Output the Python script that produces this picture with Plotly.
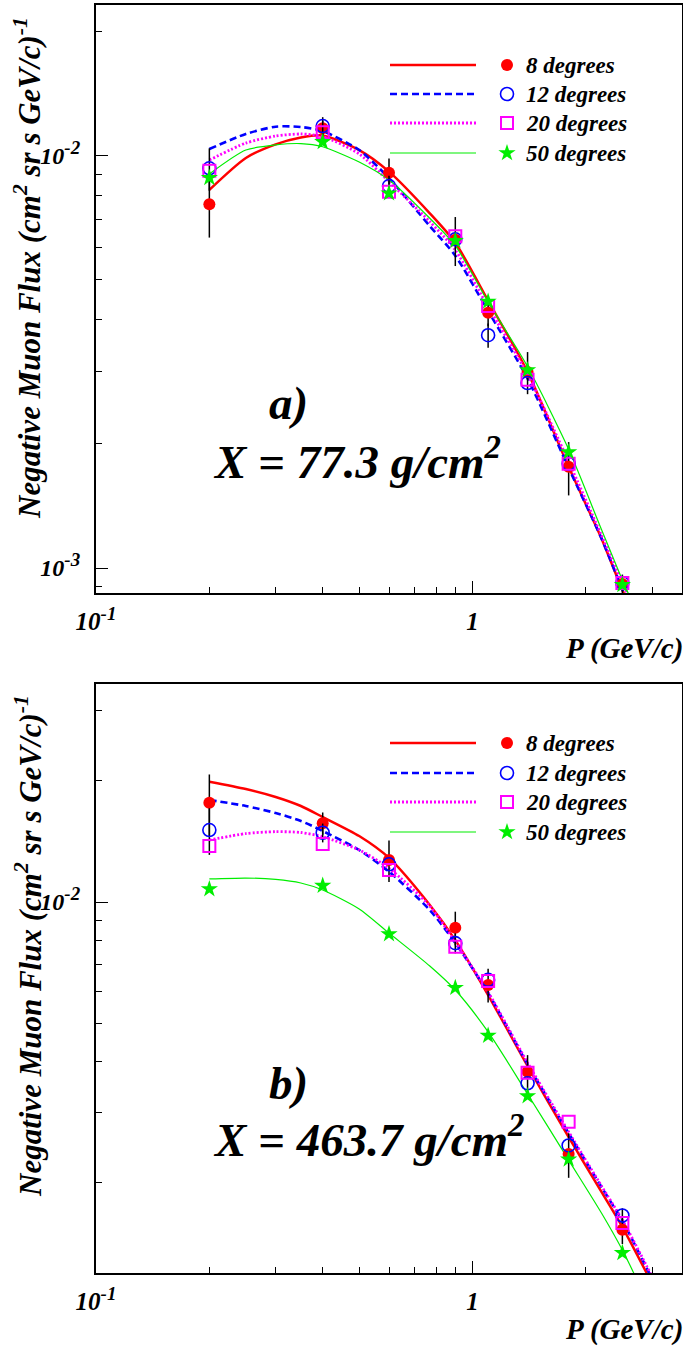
import plotly.graph_objects as go

W, H = 683, 1347
FONT = "Liberation Serif"

# ---------------- data ----------------
p_data = [0.2, 0.4, 0.6, 0.9, 1.1, 1.4, 1.8, 2.5]
series_names = ["8 degrees", "12 degrees", "20 degrees", "50 degrees"]

# panel a)  X = 77.3 g/cm2
a_8 = [7.63e-3, 1.166e-2, 9.09e-3, 6.25e-3, 4.16e-3, 2.99e-3, 1.76e-3, 9.14e-4]
a_8_err = [1.3e-3, 5e-4, 7.5e-4, 8.5e-4, 3e-4, 3.5e-4, 2.6e-4, 5e-5]
a_12 = [9.32e-3, 1.18e-2, 8.44e-3, 6.27e-3, 3.67e-3, 2.81e-3, 1.79e-3, 9.2e-4]
a_12_err = [1.1e-3, 6e-4, 5e-4, 0, 2.5e-4, 0, 0, 0]
a_20 = [9.2e-3, 1.14e-2, 8.18e-3, 6.38e-3, 4.32e-3, 2.86e-3, 1.79e-3, 9.2e-4]
a_50 = [8.84e-3, 1.08e-2, 8.11e-3, 6.22e-3, 4.43e-3, 3.02e-3, 1.91e-3, 9.1e-4]

p_fit_a = [0.2, 0.25, 0.3, 0.35, 0.4, 0.5, 0.6, 0.77, 0.9, 1.1, 1.4, 1.8, 2.2, 2.5, 2.7]
fa_8 = [8.26e-3, 9.87e-3, 1.065e-2, 1.107e-2, 1.119e-2, 1.032e-2, 9.15e-3, 7.25e-3,
        6.15e-3, 4.45e-3, 2.99e-3, 1.76e-3, 1.18e-3, 8.84e-4, 7.5e-4]
fa_12 = [1.038e-2, 1.129e-2, 1.176e-2, 1.174e-2, 1.147e-2, 1.032e-2, 8.82e-3, 6.75e-3,
         5.72e-3, 4.2e-3, 2.88e-3, 1.75e-3, 1.18e-3, 8.87e-4, 7.5e-4]
fa_20 = [9.76e-3, 1.073e-2, 1.116e-2, 1.129e-2, 1.113e-2, 1.01e-2, 8.65e-3, 6.92e-3,
         5.9e-3, 4.3e-3, 2.95e-3, 1.81e-3, 1.2e-3, 9.2e-4, 7.9e-4]
fa_50 = [9.03e-3, 1.032e-2, 1.062e-2, 1.07e-2, 1.051e-2, 9.65e-3, 8.73e-3, 7.05e-3,
         6.05e-3, 4.42e-3, 3.08e-3, 1.94e-3, 1.24e-3, 9.35e-4, 8.0e-4]

# panel b)  X = 463.7 g/cm2
b_8 = [1.766e-2, 1.57e-2, 1.272e-2, 8.63e-3, 6.22e-3, 3.78e-3, 2.36e-3, 1.53e-3]
b_8_err = [3.1e-3, 1.0e-3, 1.5e-3, 8.3e-4, 6e-4, 3.8e-4, 3e-4, 1.2e-4]
b_12 = [1.51e-2, 1.487e-2, 1.241e-2, 7.9e-3, 6.4e-3, 3.54e-3, 2.48e-3, 1.66e-3]
b_12_err = [2.0e-3, 8e-4, 0, 4.5e-4, 0, 0, 0, 7e-5]
b_20 = [1.378e-2, 1.394e-2, 1.201e-2, 7.74e-3, 6.36e-3, 3.76e-3, 2.84e-3, 1.59e-3]
b_50 = [1.077e-2, 1.098e-2, 8.32e-3, 6.12e-3, 4.65e-3, 3.29e-3, 2.29e-3, 1.34e-3]

p_fit_b = [0.2, 0.25, 0.3, 0.35, 0.4, 0.5, 0.6, 0.77, 0.9, 1.1, 1.4, 1.8, 2.2, 2.5, 2.9, 3.2]
fb_8 = [1.992e-2, 1.91e-2, 1.825e-2, 1.733e-2, 1.627e-2, 1.459e-2, 1.287e-2, 9.83e-3,
        8.04e-3, 5.87e-3, 3.91e-3, 2.60e-3, 1.90e-3, 1.554e-3, 1.194e-3, 9.94e-4]
fb_12 = [1.794e-2, 1.733e-2, 1.665e-2, 1.591e-2, 1.502e-2, 1.347e-2, 1.19e-2, 9.55e-3,
         7.91e-3, 5.94e-3, 3.95e-3, 2.66e-3, 1.954e-3, 1.609e-3, 1.229e-3, 1.023e-3]
fb_20 = [1.426e-2, 1.48e-2, 1.496e-2, 1.489e-2, 1.453e-2, 1.347e-2, 1.213e-2, 9.77e-3,
         7.95e-3, 5.97e-3, 3.98e-3, 2.68e-3, 1.966e-3, 1.618e-3, 1.243e-3, 1.035e-3]
p_fit_b50 = [0.2, 0.25, 0.3, 0.35, 0.4, 0.5, 0.6, 0.77, 0.9, 1.1, 1.4, 1.8, 2.2, 2.5, 2.9]
fb_50 = [1.141e-2, 1.147e-2, 1.138e-2, 1.115e-2, 1.071e-2, 9.61e-3, 8.37e-3, 6.93e-3,
         6.04e-3, 4.75e-3, 3.33e-3, 2.28e-3, 1.684e-3, 1.362e-3, 1.023e-3]

# axis ticks
SUP = '<sup><span style="font-size:19px">{}</span></sup>'
x_major = [0.1, 1]
x_major_text = ["10" + SUP.format("-1"), "1"]
x_minor = [0.2, 0.3, 0.4, 0.5, 0.6, 0.7, 0.8, 0.9, 2, 3]
ya_major = [1e-3, 1e-2]
ya_major_text = ["10" + SUP.format("-3"), "10" + SUP.format("-2")]
ya_minor = [9e-4, 2e-3, 3e-3, 4e-3, 5e-3, 6e-3, 7e-3, 8e-3, 9e-3, 2e-2]
yb_major = [1e-2]
yb_major_text = ["10" + SUP.format("-2")]
yb_minor = [2e-3, 3e-3, 4e-3, 5e-3, 6e-3, 7e-3, 8e-3, 9e-3, 2e-2, 3e-2]

# ---------------- styles ----------------
colors = ["#ff0000", "#0000ff", "#ff00ff", "#00ee00"]
line_styles = [dict(width=2.5, dash="solid"), dict(width=2.6, dash="7px,4px"),
               dict(width=2.8, dash="2px,2px"), dict(width=1.2, dash="solid")]
markers = [dict(symbol="circle", size=12, color="#ff0000", line=dict(width=0)),
           dict(symbol="circle-open", size=13, color="#0000ff", line=dict(width=1.6)),
           dict(symbol="square-open", size=12, color="#ff00ff", line=dict(width=2)),
           dict(symbol="star", size=13, color="#00ee00", line=dict(width=0))]


def fnt(size):
    return dict(family=FONT, size=size, color="black", weight="bold", style="italic")


def px(x, y):
    return x / W, 1 - y / H


fig = go.Figure()

panels = [
    dict(xa="x", ya="y", fitx=[p_fit_a] * 4, fits=[fa_8, fa_12, fa_20, fa_50],
         pts=[a_8, a_12, a_20, a_50], errs=[a_8_err, a_12_err, None, None]),
    dict(xa="x2", ya="y2", fitx=[p_fit_b, p_fit_b, p_fit_b, p_fit_b50],
         fits=[fb_8, fb_12, fb_20, fb_50],
         pts=[b_8, b_12, b_20, b_50], errs=[b_8_err, b_12_err, None, None]),
]

for pn in panels:
    for i in range(4):
        fig.add_trace(go.Scatter(x=pn["fitx"][i], y=pn["fits"][i], mode="lines",
                                 line=dict(color=colors[i], shape="spline", smoothing=0.7,
                                           **line_styles[i]),
                                 xaxis=pn["xa"], yaxis=pn["ya"], hoverinfo="skip"))
    for i in range(4):
        err = pn["errs"][i]
        ey = dict(type="data", array=err, visible=True, color="black",
                  thickness=1.5, width=0) if err is not None else None
        fig.add_trace(go.Scatter(x=p_data, y=pn["pts"][i], mode="markers",
                                 marker=markers[i], error_y=ey,
                                 xaxis=pn["xa"], yaxis=pn["ya"], cliponaxis=False))

# legend samples on a page-sized overlay axis (pixel units)
leg_rows = [[65, 94, 123, 153], [743, 773, 802, 832]]
leg_line_x = [390, 476]
leg_mark_x = 507
leg_text_x = 524
annotations = []
for rows in leg_rows:
    for i, ry in enumerate(rows):
        fig.add_trace(go.Scatter(x=leg_line_x, y=[ry, ry], mode="lines",
                                 line=dict(color=colors[i], **line_styles[i]),
                                 xaxis="x3", yaxis="y3", hoverinfo="skip"))
        fig.add_trace(go.Scatter(x=[leg_mark_x], y=[ry], mode="markers", marker=markers[i],
                                 xaxis="x3", yaxis="y3", hoverinfo="skip"))
        annotations.append(dict(x=leg_text_x, y=ry, xref="x3", yref="y3", text=series_names[i],
                                showarrow=False, xanchor="left", yanchor="middle", font=fnt(23)))

xdom = [96 / W, 682 / W]
common_x = dict(type="log", range=[-1, 0.5563], domain=xdom, showline=True, mirror=True,
                linecolor="black", linewidth=2, ticks="inside", ticklen=12, tickwidth=1.2,
                tickcolor="black", tickmode="array", tickvals=x_major, ticktext=x_major_text,
                tickfont=fnt(25), ticklabelstandoff=5, showgrid=False, zeroline=False,
                automargin=False,
                minor=dict(ticks="inside", ticklen=6, tickwidth=1.2, tickcolor="black",
                           tickmode="array", tickvals=x_minor, showgrid=False))


def ycommon(rng, dom, tv, tt, mv):
    return dict(type="log", range=rng, domain=dom, showline=True, mirror=True,
                linecolor="black", linewidth=2, ticks="inside", ticklen=12, tickwidth=1.2,
                tickcolor="black", tickmode="array", tickvals=tv, ticktext=tt,
                tickfont=fnt(24), ticklabelstandoff=9, showgrid=False, zeroline=False,
                automargin=False,
                minor=dict(ticks="inside", ticklen=6, tickwidth=1.2, tickcolor="black",
                           tickmode="array", tickvals=mv, showgrid=False))


ya_dom = [1 - 593 / H, 1 - 5 / H]
yb_dom = [1 - 1273 / H, 1 - 684 / H]

ytitle = "Negative Muon Flux (cm<sup>2</sup> sr s GeV/c)<sup>-1</sup>"
for (cy, tcx, tcy, lab, xt, xcx, xcy) in [
        (268, 288, 403, "a)", "X = 77.3 g/cm<sup>2</sup>", 357, 458),
        (946, 288, 1083, "b)", "X = 463.7 g/cm<sup>2</sup>", 369, 1136)]:
    x, y = px(28, cy)
    annotations.append(dict(x=x, y=y, xref="paper", yref="paper", text=ytitle, textangle=-90,
                            showarrow=False, xanchor="center", yanchor="middle", font=fnt(31)))
    x, y = px(tcx, tcy)
    annotations.append(dict(x=x, y=y, xref="paper", yref="paper", text=lab, showarrow=False,
                            xanchor="center", yanchor="middle", font=fnt(47)))
    x, y = px(xcx, xcy)
    annotations.append(dict(x=x, y=y, xref="paper", yref="paper", text=xt, showarrow=False,
                            xanchor="center", yanchor="middle", font=fnt(47)))

for cy in [648, 1329]:
    x, y = px(685, cy)
    annotations.append(dict(x=x, y=y, xref="paper", yref="paper", text="P (GeV/c)",
                            showarrow=False, xanchor="right", yanchor="middle", font=fnt(29)))

fig.update_layout(
    width=W, height=H, autosize=False, margin=dict(l=0, r=0, t=0, b=0, autoexpand=False),
    paper_bgcolor="white", plot_bgcolor="rgba(0,0,0,0)", showlegend=False,
    xaxis=dict(common_x, anchor="y"),
    yaxis=ycommon([-3.0606, -1.6345], ya_dom, ya_major, ya_major_text, ya_minor) | dict(anchor="x"),
    xaxis2=dict(common_x, anchor="y2"),
    yaxis2=ycommon([-2.9229, -1.4577], yb_dom, yb_major, yb_major_text, yb_minor) | dict(anchor="x2"),
    xaxis3=dict(domain=[0, 1], range=[0, W], visible=False, fixedrange=True, anchor="y3",
                automargin=False),
    yaxis3=dict(domain=[0, 1], range=[H, 0], visible=False, fixedrange=True, anchor="x3",
                automargin=False),
    annotations=annotations,
)

fig.write_html("out.html")
